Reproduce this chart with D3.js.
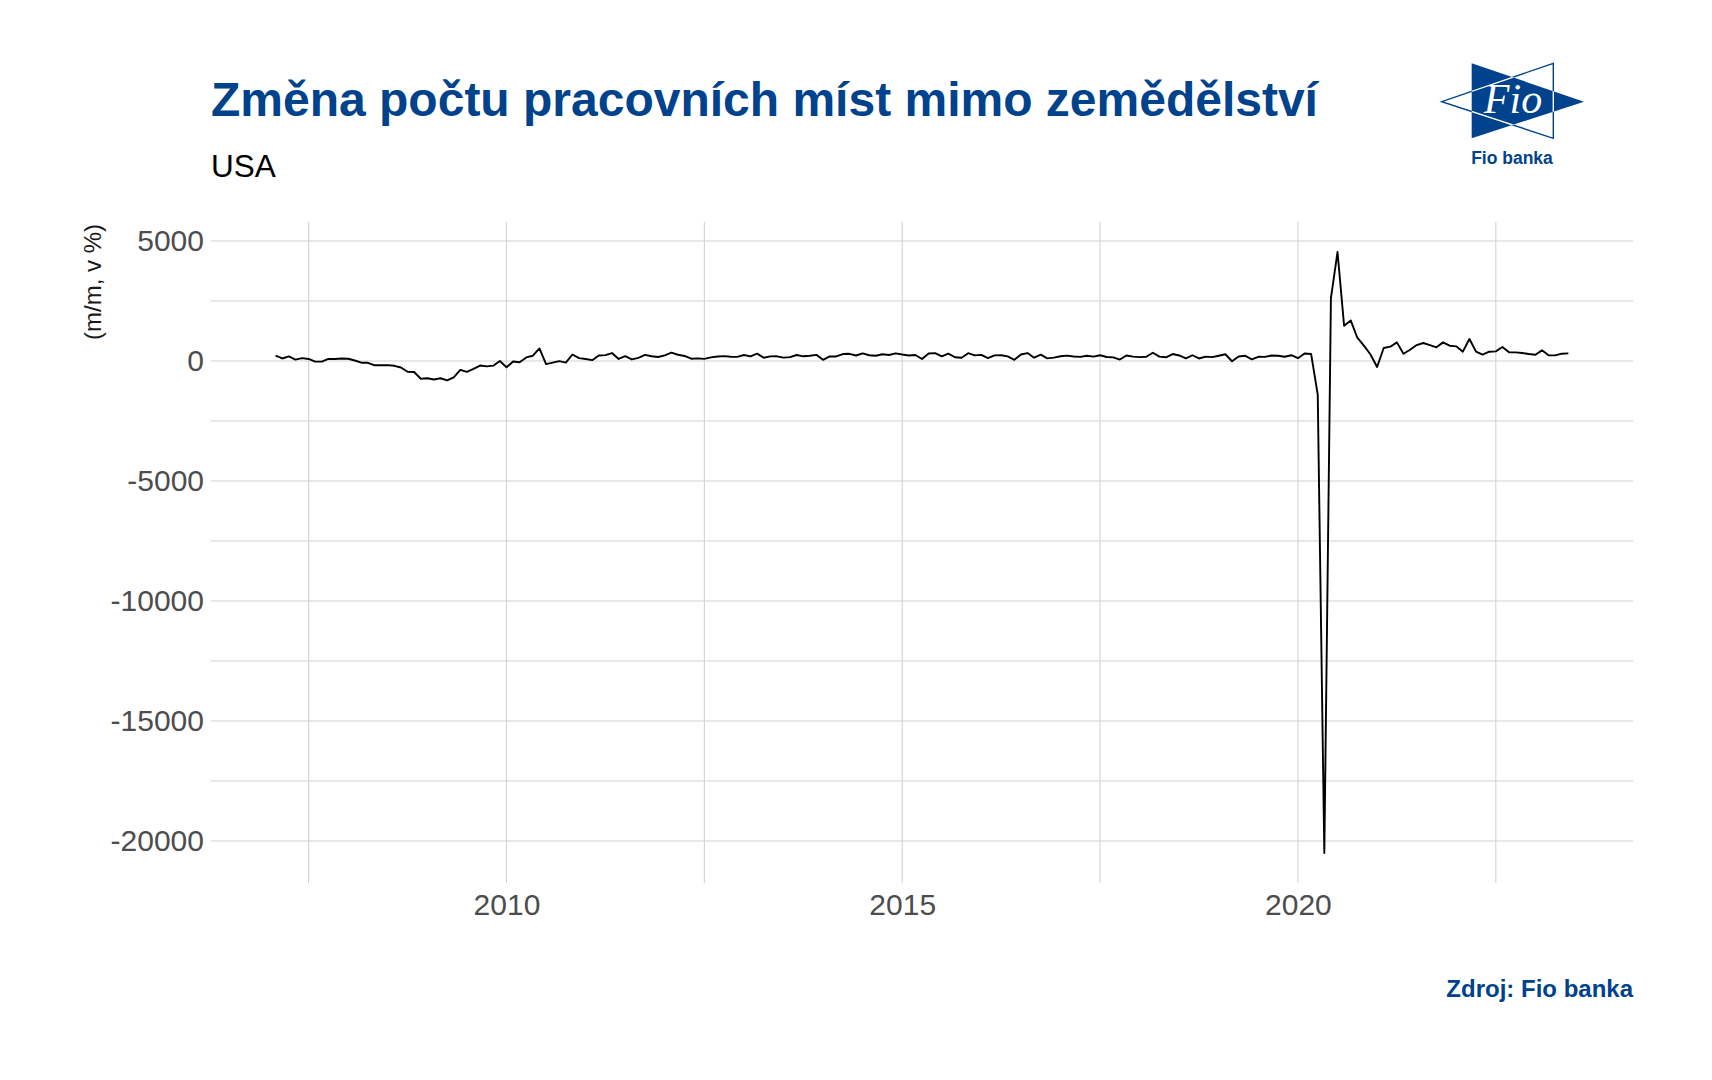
<!DOCTYPE html>
<html><head><meta charset="utf-8">
<script src="https://cdn.jsdelivr.net/npm/d3@7"></script>
<style>body{margin:0;background:#fff}</style>
</head><body><svg id="c" width="1712" height="1080"></svg>
<script>
const title = "Změna počtu pracovních míst mimo zemědělství";
const subtitle = "USA";
const yAxisLabel = "(m/m, v %)";
const source = "Zdroj: Fio banka";
const logoWord = "Fio";
const logoCaption = "Fio banka";
const startYear = 2007, startMonth = 1;
// monthly change, Jan 2007 .. May 2023
const values = [
  225, 105, 190, 60, 120, 85, -25, -25, 90, 85, 105, 95,
  20, -70, -75, -180, -175, -170, -200, -270, -450, -460, -740, -720,
  -770, -720, -810, -680, -370, -450, -325, -190, -225, -195, 0, -260,
  -20, -55, 150, 220, 525, -130, -70, -5, -65, 270, 120, 85,
  35, 230, 245, 330, 85, 200, 65, 130, 255, 200, 165, 235,
  345, 260, 210, 95, 110, 90, 150, 185, 205, 175, 170, 250,
  190, 305, 135, 192, 195, 140, 160, 250, 195, 220, 255, 50,
  190, 190, 290, 300, 230, 320, 240, 220, 280, 250, 320, 270,
  230, 250, 85, 315, 330, 195, 305, 155, 135, 325, 235, 255,
  120, 235, 240, 190, 50, 270, 330, 138, 265, 110, 140, 200,
  225, 190, 170, 220, 180, 240, 165, 150, 60, 230, 180, 160,
  178, 345, 180, 155, 290, 230, 110, 240, 105, 180, 160, 220,
  280, -10, 190, 220, 70, 175, 170, 230, 220, 175, 240, 115,
  315, 290, -1400, -20500, 2620, 4540, 1470, 1690, 970, 640, 270, -250,
  540, 596, 776, 304, 471, 665, 749, 665, 568, 776, 637, 610,
  388, 915, 388, 263, 388, 401, 582, 360, 360, 332, 290, 263,
  443, 235, 235, 304, 318
];
const xMajorTicks = [2010, 2015, 2020];
const xMinorTicks = [2007.5, 2012.5, 2017.5, 2022.5];
const yMajorTicks = [5000, 0, -5000, -10000, -15000, -20000];
const yMinorTicks = [2500, -2500, -7500, -12500, -17500];

const BLUE = "#00428c";
const svg = d3.select("#c");
svg.append("rect").attr("width",1712).attr("height",1080).attr("fill","#fff");

const times = values.map((v,i) => startYear + (startMonth - 1 + i + 1) / 12);
const data = values.map((v,i) => ({t: times[i], v}));

const L = 211, R = 1633, T = 222, B = 883;
const tx = d3.extent(times), vx = d3.extent(values);
const px = (tx[1]-tx[0])*0.05, py = (vx[1]-vx[0])*0.05;
const x = d3.scaleLinear().domain([tx[0]-px, tx[1]+px]).range([L, R]);
const y = d3.scaleLinear().domain([vx[0]-py, vx[1]+py]).range([B, T]);

const grid = svg.append("g");
grid.selectAll(".hy").data(yMinorTicks.concat(yMajorTicks)).join("line")
  .attr("x1", L).attr("x2", R).attr("y1", d=>y(d)).attr("y2", d=>y(d))
  .attr("stroke", "#d2d2d2").attr("stroke-width", 1.1);
grid.selectAll(".vx").data(xMinorTicks.concat(xMajorTicks)).join("line")
  .attr("y1", T).attr("y2", B).attr("x1", d=>x(d)).attr("x2", d=>x(d))
  .attr("stroke", "#d2d2d2").attr("stroke-width", 1.1);

const ya = svg.append("g").attr("transform", `translate(${L-7},0)`)
  .call(d3.axisLeft(y).tickValues(yMajorTicks).tickSize(0).tickPadding(0).tickFormat(d=>String(d)));
ya.select(".domain").remove();
ya.selectAll("text").attr("font-family","'Liberation Sans', Arial, sans-serif").attr("font-size",30).attr("fill","#4d4d4d");

const xa = svg.append("g").attr("transform", `translate(0,${B})`)
  .call(d3.axisBottom(x).tickValues(xMajorTicks).tickSize(0).tickPadding(11).tickFormat(d=>String(d)));
xa.select(".domain").remove();
xa.selectAll("text").attr("font-family","'Liberation Sans', Arial, sans-serif").attr("font-size",30).attr("fill","#4d4d4d");

svg.append("path").datum(data)
  .attr("d", d3.line().x(d=>x(d.t)).y(d=>y(d.v)))
  .attr("fill","none").attr("stroke","#000").attr("stroke-width",1.9).attr("stroke-linejoin","round");

svg.append("text").attr("x", 101).attr("y", T+2).attr("transform", `rotate(-90,101,${T+2})`)
  .attr("text-anchor","end").attr("font-family","'Liberation Sans', Arial, sans-serif")
  .attr("font-size",24).attr("fill","#1a1a1a").text(yAxisLabel);

svg.append("text").attr("x", L).attr("y", 116).attr("font-family","'Liberation Sans', Arial, sans-serif")
  .attr("font-size",48).attr("font-weight","bold").attr("fill",BLUE).text(title);
svg.append("text").attr("x", L).attr("y", 177).attr("font-family","'Liberation Sans', Arial, sans-serif")
  .attr("font-size",31.5).attr("fill","#000").text(subtitle);
svg.append("text").attr("x", R).attr("y", 997).attr("text-anchor","end").attr("font-family","'Liberation Sans', Arial, sans-serif")
  .attr("font-size",24).attr("font-weight","bold").attr("fill",BLUE).text(source);

// logo
const logo = svg.append("g");
const tri = "M1471.7,63.3 L1584,101.7 L1471.7,138.3 Z";
logo.append("path").attr("d",tri).attr("fill",BLUE);
const outline = "M1553.3,63.3 L1441.7,101.7 L1553.3,138.3 Z";
logo.append("path").attr("d", outline).attr("fill","none").attr("stroke",BLUE).attr("stroke-width",1.4);
logo.append("clipPath").attr("id","lc").append("path").attr("d",tri);
logo.append("path").attr("d", outline).attr("fill","none").attr("stroke","#fff").attr("stroke-width",1.4).attr("clip-path","url(#lc)");
logo.append("text").attr("x",1513).attr("y",113).attr("text-anchor","middle")
  .attr("font-family","'Liberation Serif', 'DejaVu Serif', serif").attr("font-style","italic")
  .attr("font-size",42).attr("fill","#fff").text(logoWord);
logo.append("text").attr("x",1512).attr("y",164).attr("text-anchor","middle")
  .attr("font-family","'Liberation Sans', Arial, sans-serif").attr("font-weight","bold").attr("font-size",17.5).attr("fill",BLUE).text(logoCaption);
</script></body></html>
